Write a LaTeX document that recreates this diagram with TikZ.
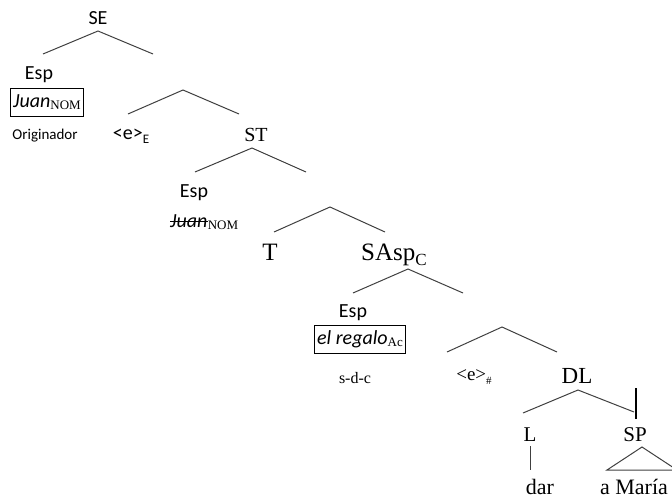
\documentclass[tikz,border=0pt]{standalone}
\usepackage{fontspec}
\setmainfont{Liberation Serif}
\setsansfont{Carlito}
\newcommand\sansit[1]{{\sffamily\itshape\fontsize{20}{24}\selectfont #1}}
\newcommand\sersub[2]{\raisebox{-2.5pt}{\rmfamily\fontsize{#1}{#1}\selectfont #2}}
\begin{document}
\begin{tikzpicture}[x=1pt,y=-1pt,
  sanslbl/.style={font=\sffamily\fontsize{20}{24}\selectfont, inner sep=0pt},
  serlbl/.style={font=\rmfamily\fontsize{20}{24}\selectfont, inner sep=0pt},
  bigser/.style={font=\rmfamily\fontsize{25}{30}\selectfont, inner sep=0pt},
  boxed/.style={draw=black, line width=0.9pt, inner xsep=2.5pt, inner ysep=0pt, minimum height=28pt},
  branch/.style={draw=black!75, line width=1pt},
  thickline/.style={draw=black, line width=2.2pt}]
\useasboundingbox (0,0) rectangle (672,500);
% labels
\node[sanslbl] (SE) at (98,18) {SE};
\node[sanslbl] (esp1) at (39,75) {Esp};
\node[boxed] (juan1) at (47,102) {\sansit{Juan}\sersub{13}{NOM}};
\node[inner sep=0pt, font=\sffamily\fontsize{15}{18}\selectfont] (orig) at (45,136) {Originador};
\node[sanslbl] (eE) at (131,136) {<e>\raisebox{-4pt}{\fontsize{13}{13}\selectfont E}};
\node[serlbl] (ST) at (256,135) {ST};
\node[sanslbl] (esp2) at (194,193) {Esp};
\node[inner sep=0pt, anchor=base west] (juan2) at (170,227) {\sansit{Juan}};
\node[inner sep=0pt, anchor=base west] (nom2) at (juan2.base east) {\sersub{13}{NOM}};
\node[bigser] (T) at (270,252) {T};
\node[bigser] (SAsp) at (394,255) {SAsp\raisebox{-5pt}{\fontsize{17}{17}\selectfont C}};
\node[sanslbl] (esp3) at (353,313) {Esp};
\node[boxed] (regalo) at (360,339) {\sansit{el regalo}\sersub{13}{Ac}};
\node[inner sep=0pt, font=\rmfamily\fontsize{16}{19}\selectfont] (sdc) at (355,378) {s-d-c};
\node[inner sep=0pt, font=\rmfamily\fontsize{19}{22}\selectfont] (eH) at (474,377) {<e>\raisebox{-4pt}{\fontsize{11}{11}\selectfont\#}};
\node[inner sep=0pt, font=\rmfamily\fontsize{23}{27}\selectfont] (DL) at (577,376) {DL};
\node[inner sep=0pt, font=\rmfamily\fontsize{21}{25}\selectfont] (L) at (530,435) {L};
\node[inner sep=0pt, font=\rmfamily\fontsize{21}{25}\selectfont] (SP) at (635,435) {SP};
\node[inner sep=0pt, font=\rmfamily\fontsize{22}{26}\selectfont] (dar) at (540,487) {dar};
\node[inner sep=0pt, font=\rmfamily\fontsize{22}{26}\selectfont] (maria) at (634,487) {a María};
% strike-through
\draw[line width=0.9pt] ([yshift=5.5pt]juan2.base west) -- ([yshift=5.5pt]juan2.base east);
% branch coordinates
\coordinate (a1) at (98,31);  \coordinate (a1l) at (43,54);  \coordinate (a1r) at (153,54);
\coordinate (a2) at (183,90); \coordinate (a2l) at (128,114); \coordinate (a2r) at (239,114);
\coordinate (a3) at (252,148); \coordinate (a3l) at (195,172); \coordinate (a3r) at (306,172);
\coordinate (a4) at (330,207); \coordinate (a4l) at (274,232); \coordinate (a4r) at (385,232);
\coordinate (a5) at (408,269); \coordinate (a5l) at (353,293); \coordinate (a5r) at (463,293);
\coordinate (a6) at (502,327); \coordinate (a6l) at (447,352); \coordinate (a6r) at (557,352);
\coordinate (a7) at (578,390); \coordinate (a7l) at (523,413); \coordinate (a7r) at (634,412);
\coordinate (tk1) at (636,388); \coordinate (tk2) at (636,419);
\coordinate (lt) at (530,446); \coordinate (lb) at (530,470);
\coordinate (tri1) at (642,447); \coordinate (tri2) at (607,470); \coordinate (tri3) at (677,470);
% branches
\foreach \n in {a1,a2,a3,a4,a5,a6,a7}{
  \draw[branch] (\n l) -- (\n) -- (\n r);
}
\draw[thickline] (tk1) -- (tk2);
\draw[branch] (lt) -- (lb);
\draw[branch] (tri1) -- (tri2) -- (tri3) -- cycle;
\end{tikzpicture}
\end{document}
